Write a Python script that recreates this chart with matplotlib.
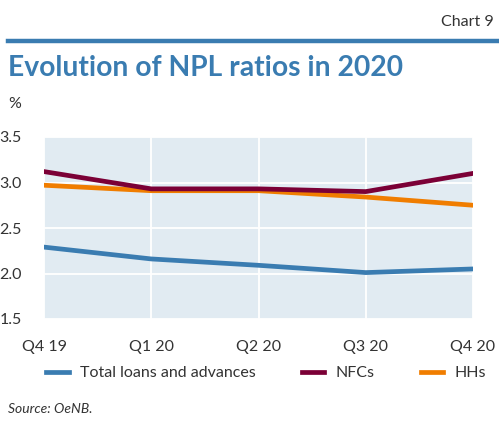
import matplotlib.pyplot as plt
from matplotlib.lines import Line2D

quarters = ["Q4 19", "Q1 20", "Q2 20", "Q3 20", "Q4 20"]
total_loans = [2.29, 2.16, 2.09, 2.01, 2.05]
nfcs = [3.12, 2.93, 2.93, 2.90, 3.10]
hhs = [2.97, 2.91, 2.91, 2.84, 2.75]

BLUE = "#3a7cb1"
MAROON = "#7b0036"
ORANGE = "#f07d00"
BG = "#e1ebf2"
TXT = "#333333"

plt.rcParams["font.family"] = ["Lato", "DejaVu Sans"]

fig = plt.figure(figsize=(4.99, 4.32), dpi=100)

# header
fig.text(494 / 499, 1 - 22 / 432, "Chart 9", ha="right", va="center",
         fontsize=11.5, color=TXT)
fig.add_artist(Line2D([8 / 499, 1.0], [1 - 41 / 432, 1 - 41 / 432],
                      color=BLUE, lw=3.2, transform=fig.transFigure))
fig.text(8 / 499, 1 - 68 / 432, "Evolution of NPL ratios in 2020", ha="left",
         va="center", fontsize=20.3, fontweight="bold", color=BLUE)
fig.text(8 / 499, 1 - 104 / 432, "%", ha="left", va="center",
         fontsize=11.5, color=TXT)

ax = fig.add_axes([44 / 499, 1 - 319 / 432, 429 / 499, 182 / 432])
ax.set_facecolor(BG)
x = range(len(quarters))
ax.plot(x, total_loans, color=BLUE, lw=3.4, label="Total loans and advances",
        solid_joinstyle="miter")
ax.plot(x, hhs, color=ORANGE, lw=3.4, label="HHs", solid_joinstyle="miter")
ax.plot(x, nfcs, color=MAROON, lw=3.4, label="NFCs", solid_joinstyle="miter")

ax.set_xlim(0, len(quarters) - 1)
ax.set_ylim(1.5, 3.5)
ax.set_yticks([1.5, 2.0, 2.5, 3.0, 3.5])
ax.set_yticklabels(["1.5", "2.0", "2.5", "3.0", "3.5"])
ax.set_xticks(list(x))
ax.set_xticklabels(quarters)
ax.grid(True, color="white", lw=1.3)
ax.set_axisbelow(True)
for s in ax.spines.values():
    s.set_visible(False)
ax.tick_params(length=0, labelsize=11.5, labelcolor=TXT)
ax.tick_params(axis="y", pad=16)
ax.tick_params(axis="x", pad=15)

handles = [Line2D([], [], color=BLUE, lw=3.4),
           Line2D([], [], color=MAROON, lw=3.4),
           Line2D([], [], color=ORANGE, lw=3.4)]
labels = ["Total loans and advances", "NFCs", "HHs"]
fig.legend(handles, labels, loc="center left",
           bbox_to_anchor=(35 / 499, 1 - 373 / 432), ncol=3, frameon=False,
           fontsize=11.5, handlelength=1.4, handletextpad=0.7,
           columnspacing=2.9, labelcolor=TXT, borderpad=0.2)

fig.text(8 / 499, 1 - 409 / 432, "Source: OeNB.", ha="left", va="center",
         fontsize=10, style="italic", color=TXT)

fig.savefig("out.png", dpi=100)
